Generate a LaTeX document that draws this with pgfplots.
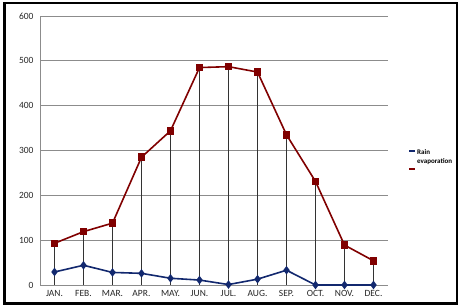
\documentclass[border=0pt]{standalone}
\usepackage{pgfplots}
\pgfplotsset{compat=1.18}
\usepackage{fontspec}
\setmainfont{Carlito}
\definecolor{evap}{RGB}{128,0,0}
\definecolor{rain}{RGB}{18,40,110}
\definecolor{gridc}{RGB}{140,140,140}
\begin{document}
\begin{tikzpicture}
\useasboundingbox (0pt,0pt) rectangle (461pt,307pt);
\draw[black, line width=2.2pt] (4.5pt,3.5pt) rectangle (457pt,304pt);
\draw[black, line width=1.5pt] (5.5pt,3.5pt) -- (5.5pt,304pt);
\begin{axis}[
  at={(40pt,22pt)}, anchor=south west,
  scale only axis, width=348pt, height=269pt,
  xmin=-0.5, xmax=11.5, ymin=0, ymax=600,
  xtick={0,...,11},
  xticklabels={JAN.,FEB.,MAR.,APR.,MAY.,JUN.,JUL.,AUG.,SEP.,OCT.,NOV.,DEC.},
  ytick={0,100,...,600},
  axis x line*=bottom, axis y line*=left,
  axis line style={gridc, line width=0.8pt, -},
  ymajorgrids, grid style={gridc, line width=0.8pt},
  major tick length=0pt,
  tick style={draw=none},
  ticklabel style={font=\fontsize{9.5}{10}\selectfont, text=black!85},
  /pgf/number format/assume math mode=true,
  xticklabel style={yshift=-1.5pt},
  yticklabel style={xshift=-3pt},
  legend style={at={(1.058,0.508)}, anchor=north west, draw=none, fill=none,
    font=\fontsize{7}{8}\selectfont\bfseries, row sep=1pt, inner sep=0pt,
    nodes={inner sep=1pt}},
  legend cell align=left,
  clip=false,
]
\addplot[ycomb, black!80, line width=0.6pt, no marks, forget plot] table {
x y
0 93
1 119
2 138
3 285
4 344
5 485
6 487
7 475
8 335
9 231
10 89
11 54
};
\addplot[rain, line width=1.6pt, mark=diamond*, mark size=3pt,
  legend image code/.code={\draw[rain, line width=1.8pt] (-4pt,2pt) -- (2pt,2pt);}] table {
x y
0 29
1 44
2 28
3 26
4 15
5 11
6 1
7 13
8 33
9 0
10 0
11 0
};
\addlegendentry{Rain}
\addplot[evap, line width=1.6pt, mark=square*, mark size=3pt,
  legend image code/.code={\draw[evap, line width=1.8pt] (-4pt,-7pt) -- (2pt,-7pt);}] table {
x y
0 93
1 119
2 138
3 285
4 344
5 485
6 487
7 475
8 335
9 231
10 89
11 54
};
\addlegendentry{evaporation}
\end{axis}
\end{tikzpicture}
\end{document}
